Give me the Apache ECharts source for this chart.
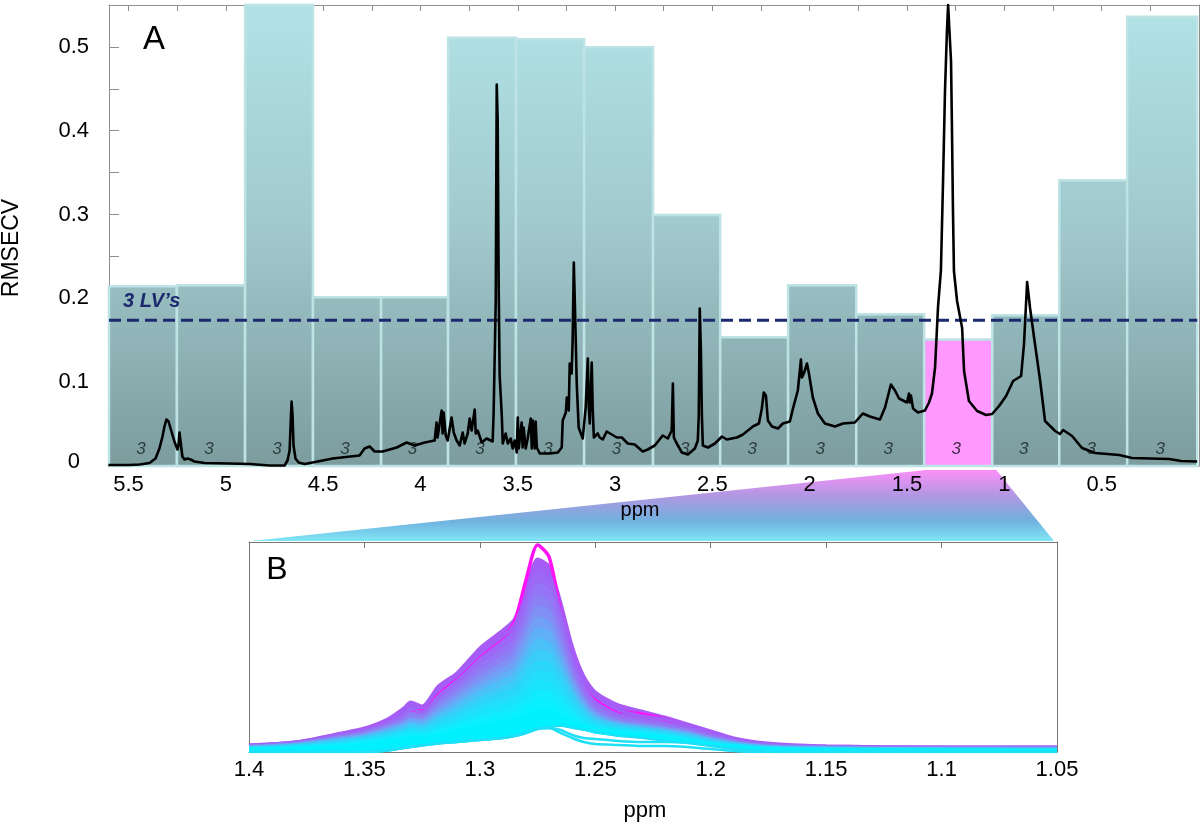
<!DOCTYPE html>
<html><head><meta charset="utf-8">
<style>html,body{margin:0;padding:0;background:#fff}#c{width:1200px;height:827px}</style>
<script src="https://cdn.jsdelivr.net/npm/echarts@6/dist/echarts.min.js"></script>
</head><body><div id="c"></div>
<script>
// Panel A: bins [left ppm, right ppm, RMSECV, latent variables]
const bins = [
 [5.600,5.251,0.2145,3],[5.251,4.901,0.2157,3],[4.901,4.552,0.55,3],[4.552,4.202,0.2013,3],
 [4.202,3.858,0.2013,3],[3.858,3.509,0.511,3],[3.509,3.159,0.509,3],[3.159,2.805,0.4995,3],
 [2.805,2.460,0.2994,3],[2.460,2.111,0.1535,3],[2.111,1.761,0.2157,3],[1.761,1.412,0.181,3],
 [1.412,1.062,0.151,3],[1.062,0.718,0.18,3],[0.718,0.369,0.341,3],[0.369,0.009,0.536,3]];
const selectedBin = 12;
const threshold = 0.174;
const ppmTicks = [5.5,5,4.5,4,3.5,3,2.5,2,1.5,1,0.5];
const ppmMinorTicks = [5.5,5.25,5,4.75,4.5,4.25,4,3.75,3.5,3.25,3,2.75,2.5,2.25,2,1.75,1.5,1.25,1,0.75,0.5,0.25];
const rmsecvTicks = [0,0.1,0.2,0.3,0.4,0.5];
const rmsecvMinorTicks = [0.05,0.1,0.15,0.2,0.25,0.3,0.35,0.4,0.45,0.5];
// Panel A: spectrum [ppm, intensity in arbitrary units]
const spectrum = [
[5.603,1],[5.495,1],[5.443,1.5],[5.392,3],[5.361,7.5],[5.341,17.5],[5.325,29.5],[5.315,39.5],[5.305,46.5],[5.294,44.5],
[5.279,34.5],[5.264,24.5],[5.248,16.5],[5.243,20.5],[5.238,33.5],[5.233,31.5],[5.228,17.5],[5.223,9.5],[5.212,6.5],[5.197,7.5],
[5.181,6.5],[5.161,4.5],[5.109,3],[4.981,2.5],[4.878,2],[4.775,0.5],[4.724,0.5],[4.698,0.5],[4.683,5.5],[4.672,15.5],
[4.667,40.5],[4.662,64.5],[4.657,50.5],[4.652,20.5],[4.642,7.5],[4.626,3.5],[4.595,2],[4.554,3.5],[4.451,7.5],[4.313,10.5],
[4.287,17.5],[4.261,19.5],[4.235,14.5],[4.194,14.5],[4.122,18.5],[4.071,23.5],[4.030,20.5],[3.978,23.5],[3.927,25.5],[3.917,43.5],
[3.912,28.5],[3.891,55.5],[3.886,32.5],[3.881,53.5],[3.870,30.5],[3.860,25.5],[3.840,48.5],[3.829,33.5],[3.814,25.5],[3.798,20.5],
[3.783,33.5],[3.773,22.5],[3.757,32.5],[3.747,47.5],[3.737,35.5],[3.721,56.5],[3.716,32.5],[3.706,35.5],[3.685,23.5],[3.660,27.5],
[3.629,24.5],[3.624,52.5],[3.613,165.5],[3.608,381.5],[3.603,345],[3.598,180],[3.593,90.5],[3.582,50.5],[3.577,22.5],[3.562,32.5],
[3.551,22.5],[3.536,27.5],[3.526,17.5],[3.516,25.5],[3.505,13.5],[3.500,48.5],[3.495,17.5],[3.480,43.5],[3.475,18.5],[3.470,38.5],
[3.459,17.5],[3.449,27.5],[3.433,47.5],[3.428,17.5],[3.423,45.5],[3.413,17.5],[3.408,44.5],[3.402,18.5],[3.387,12.5],[3.336,12.5],
[3.294,13.5],[3.274,18.5],[3.269,45.5],[3.253,53.5],[3.248,68.5],[3.238,55.5],[3.233,102.5],[3.223,92.5],[3.218,125.5],[3.212,203.5],
[3.207,165.5],[3.202,125.5],[3.197,82.5],[3.187,38.5],[3.166,27.5],[3.156,27.5],[3.151,58.5],[3.140,107.5],[3.135,58.5],[3.130,42.5],
[3.120,103.5],[3.115,58.5],[3.109,28.5],[3.089,32.5],[3.079,28.5],[3.063,26.5],[3.043,34.5],[3.017,31.5],[2.991,28.5],[2.965,28.5],
[2.935,22.5],[2.899,21.5],[2.858,14.5],[2.832,16.5],[2.796,20.5],[2.755,30.5],[2.729,27.5],[2.709,35.5],[2.703,82.5],[2.698,28.5],
[2.683,22.5],[2.657,13.5],[2.626,11.5],[2.590,17.5],[2.575,25.5],[2.570,50.5],[2.565,157.5],[2.559,115.5],[2.554,50.5],[2.549,20.5],
[2.523,18.5],[2.487,22.5],[2.451,29.5],[2.426,26.5],[2.374,28.5],[2.343,31.5],[2.292,39.5],[2.261,42.5],[2.246,57.5],[2.236,73.5],
[2.225,70.5],[2.215,45.5],[2.194,39.5],[2.163,37.5],[2.138,42.5],[2.102,44.5],[2.086,57.5],[2.061,75.5],[2.045,106.5],[2.040,88.5],
[2.030,92.5],[2.014,102.5],[2.004,92.5],[1.984,68.5],[1.958,52.5],[1.922,42.5],[1.870,39.5],[1.829,42.5],[1.768,43.5],[1.727,52.5],
[1.691,49.5],[1.639,46.5],[1.613,58.5],[1.583,81.5],[1.562,75.5],[1.541,67.5],[1.500,63.5],[1.490,72.5],[1.485,63.5],[1.480,70.5],
[1.469,57.5],[1.444,53.5],[1.408,55.5],[1.387,63.5],[1.372,72.5],[1.356,98.5],[1.341,158.5],[1.326,195.5],[1.315,285],[1.305,375],
[1.295,435],[1.289,461],[1.279,461],[1.274,405],[1.269,335],[1.264,255],[1.259,195],[1.243,165],[1.217,138],[1.207,95],
[1.182,65],[1.140,55],[1.094,51],[1.063,52],[1.027,60],[0.991,70],[0.955,85],[0.914,90],[0.899,122],[0.883,184],
[0.868,158],[0.847,128],[0.816,85],[0.791,45],[0.739,35],[0.714,32],[0.698,36],[0.652,30],[0.601,18],[0.534,13],
[0.410,11],[0.344,8],[0.153,7],[0.092,5],[0.010,4.5]];
// Panel B
const zoomPpm = [1.40,1.38,1.36,1.35,1.34,1.333,1.33,1.325,1.318,1.31,1.30,1.29,1.285,1.28,1.275,1.27,1.265,1.26,1.255,1.25,1.24,1.23,1.22,1.21,1.20,1.19,1.18,1.17,1.15,1.10,1.05];
const zoomTicks = [1.4,1.35,1.3,1.25,1.2,1.15,1.1,1.05];
const curveColors = ['#a85cf5','#a25ff6','#9c68f5','#9574f5','#8c80f5','#8090f5','#72a0f6','#60b0f7','#4cc0f8','#3acdf9','#2cd6fa','#22defb','#18e5fc','#10ecfd','#08f0fe','#00f0ff','#00f0ff'];
const curve1 = [7,10,19,24,33,44,50,46,66,79,104,122,133,165,193,186,150,106,76,60,47,41,35,28,21,14,10,8,6,5,5];
const curve2 = [7,10,18,22,30,42,49,44,63,76,98,116,127,158,187,179,140,98,72,56,42,36,33,26,19,13,9,7,6,5,5];
const curve3 = [6,9,17,21,29,37,43,40,56,71,92,109,120,150,180,172,134,92,66,50,37,32,29,24,17,12,8,7,5,4,4];
const curve4 = [6,9,16,20,27,34,39,37,51,66,86,102,112,140,168,162,126,86,60,45,34,30,27,22,16,11,8,6,5,4,4];
const curve5 = [6,8,15,19,26,32,37,35,48,62,80,95,105,131,156,150,116,80,56,42,32,28,25,21,15,10,7,6,5,4,4];
const curve6 = [5,8,14,18,24,30,34,33,45,58,75,89,98,122,145,140,108,75,53,40,30,27,24,20,14,10,7,5,4,4,3];
const curve7 = [5,8,14,17,23,28,32,31,42,54,70,83,91,113,134,129,100,70,50,38,29,26,23,19,13,9,6,5,4,3,3];
const curve8 = [5,7,13,16,22,27,30,29,39,50,65,77,84,104,123,119,93,66,47,36,28,25,22,18,13,9,6,5,4,3,3];
const curve9 = [4,7,12,15,20,25,28,27,36,46,60,71,77,95,112,108,85,61,44,34,27,24,21,17,12,8,6,4,4,3,3];
const curve10 = [4,6,11,14,19,23,26,25,33,42,54,64,70,86,101,98,78,57,41,32,26,23,20,16,11,8,5,4,3,3,2];
const curve11 = [4,6,10,13,17,21,24,23,30,38,49,58,63,77,90,88,71,52,38,30,24,22,19,15,10,7,5,4,3,2,2];
const curve12 = [3,5,9,12,16,20,22,21,27,34,44,52,56,68,80,78,63,47,35,28,23,21,18,14,9,7,4,3,3,2,2];
const curve13 = [3,5,8,11,14,18,20,19,24,30,39,46,50,59,70,68,56,42,32,26,22,20,17,13,9,6,4,3,2,2,2];
const curve14 = [3,4,7,10,13,16,18,17,22,27,34,40,43,51,60,59,49,38,29,24,21,19,16,12,8,6,4,3,2,2,1];
const curve15 = [2,4,6,9,11,14,16,15,19,24,30,35,38,44,51,50,42,33,27,22,19,17,15,11,8,5,3,3,2,1,1];
const curve16 = [2,3,5,7,10,12,14,13,17,21,26,30,32,37,42,41,36,29,25,20,18,16,14,10,7,5,3,2,2,1,1];
const curve17 = [1,2,4,5,8,9,11,10,14,17,22,25,27,31,35,34,30,27,23,20,17,15,13,10,7,5,3,2,1,1,1];
const topCurve = [6,9,16,20,27,34,38,43,57,73,97,115,130,172,207,195,140,92,66,52,41,38,33,25,18,12,8,6,5,4,4];
const gapCurve = [0,0,0,0,1.5,4,5,6.5,8.5,10,12,14,16,19,23,25,26,24,22,20,16,14,11,9,6,3,1,0,0,0,0];
const lowCurve = [0,0,0,0,1.5,4,5,6.5,8.5,10,12,14,16,19,23,24,22,17,14,13,11,10,10,9,6,3,1,0,0,0,0];
const lowestCurve = [0,0,0,0,1.5,4,5,6.5,8.5,10,12,14,16,19,23,24,19,14,10,8,7,6,6,5,3,1,0,0,0,0,0];
const massCurves = [curve1,curve2,curve3,curve4,curve5,curve6,curve7,curve8,curve9,curve10,curve11,curve12,curve13,curve14,curve15,curve16,curve17];

const FONT = '"Liberation Sans", Arial, sans-serif';
const GRAY = '#8f8f8f';
const chart = echarts.init(document.getElementById('c'), null, {renderer:'canvas'});
const zipCurve = c => zoomPpm.map((p,i)=>[p,c[i]]);

function renderBin(params, api){
  const l = api.coord([api.value(0), api.value(2)]);
  const r = api.coord([api.value(1), 0]);
  const top = api.coord([0, 0.55])[1], bottom = api.coord([0, 0])[1];
  const pink = params.dataIndex === selectedBin;
  const fill = pink ? '#ff99ff' : new echarts.graphic.LinearGradient(0, top, 0, bottom,
      [{offset:0,color:'#b1e3e6'},{offset:0.5,color:'#a0c8cc'},{offset:1,color:'#7c9c9e'}], true);
  return {type:'group', children:[
    {type:'rect', shape:{x:l[0], y:l[1], width:r[0]-l[0], height:r[1]-l[1]},
     style:{fill, stroke:'#bde3e5', lineWidth:2.5}},
    {type:'text', x:(l[0]+r[0])/2-2, y:bottom-17,
     style:{text:String(api.value(3)), fill:pink?'#402a44':'#2c3b3d', font:'italic 17px '+FONT, align:'center', verticalAlign:'middle'}}
  ]};
}

const lineBase = {type:'line', showSymbol:false, symbol:'none', silent:true, animation:false, xAxisIndex:2, yAxisIndex:3};
const zoomSeries = [];
massCurves.forEach((c,i)=>{
  zoomSeries.push({...lineBase, smooth:0.25, z:3, data:zipCurve(c),
    lineStyle:{color:curveColors[i], width:3}, areaStyle:{color:curveColors[i], opacity:1}});
  if(i===0) zoomSeries.push({...lineBase, smooth:0.25, z:3, data:zipCurve(topCurve), lineStyle:{color:'#ff12f5',width:3.5}});
});
zoomSeries.push({...lineBase, smooth:0.25, z:3, data:zipCurve(gapCurve), lineStyle:{color:'#1fdff6',width:2}, areaStyle:{color:'#fff',opacity:1}});
zoomSeries.push({...lineBase, smooth:0.25, z:3, data:zipCurve(lowCurve), lineStyle:{color:'#1fdff6',width:2.5}});
zoomSeries.push({...lineBase, smooth:0.25, z:3, data:zipCurve(lowestCurve), lineStyle:{color:'#1fdff6',width:2.5}, areaStyle:{color:'#fff',opacity:1}});

const option = {
  backgroundColor:'#fff', animation:false,
  grid:[{left:109,right:1,top:5,height:461},{left:249,right:143,top:542,height:210}],
  xAxis:[
   {gridIndex:0,type:'value',inverse:true,min:0,max:5.6,position:'bottom',splitLine:{show:false},
    axisLine:{onZero:false,lineStyle:{color:GRAY}},axisTick:{show:false},
    axisLabel:{customValues:ppmTicks,color:'#000',fontSize:22,fontFamily:FONT,margin:8}},
   {gridIndex:0,type:'value',inverse:true,min:0,max:5.6,position:'top',splitLine:{show:false},
    axisLine:{onZero:false,lineStyle:{color:GRAY}},axisTick:{customValues:ppmMinorTicks,inside:true,length:6,lineStyle:{color:GRAY}},axisLabel:{show:false}},
   {gridIndex:1,type:'value',inverse:true,min:1.05,max:1.4,position:'bottom',splitLine:{show:false},
    axisLine:{onZero:false,lineStyle:{color:'#777'}},axisTick:{customValues:zoomTicks,inside:true,length:7,lineStyle:{color:'#777'}},
    axisLabel:{customValues:zoomTicks,color:'#000',fontSize:22,fontFamily:FONT,margin:7}},
   {gridIndex:1,type:'value',inverse:true,min:1.05,max:1.4,position:'top',splitLine:{show:false},
    axisLine:{onZero:false,lineStyle:{color:'#777'}},axisTick:{customValues:zoomTicks,inside:true,length:6,lineStyle:{color:'#777'}},axisLabel:{show:false}}
  ],
  yAxis:[
   {gridIndex:0,type:'value',min:0,max:0.55,position:'left',splitLine:{show:false},
    axisLine:{show:true,onZero:false,lineStyle:{color:GRAY}},
    axisTick:{customValues:rmsecvMinorTicks,inside:true,length:10,lineStyle:{color:GRAY}},
    axisLabel:{customValues:rmsecvTicks,color:'#000',fontSize:22,fontFamily:FONT,margin:20,
      formatter:v=>v===0?'{z|0}':String(v),rich:{z:{fontSize:22,fontFamily:FONT,color:'#000',padding:[0,9,9,0]}}}},
   {gridIndex:0,type:'value',min:0,max:461,position:'left',show:false},
   {gridIndex:0,type:'value',min:0,max:0.55,position:'right',splitLine:{show:false},
    axisLine:{show:true,onZero:false,lineStyle:{color:GRAY}},axisTick:{show:false},axisLabel:{show:false}},
   {gridIndex:1,type:'value',min:0,max:210,position:'left',splitLine:{show:false},
    axisLine:{show:true,onZero:false,lineStyle:{color:'#777'}},axisTick:{show:false},axisLabel:{show:false}},
   {gridIndex:1,type:'value',min:0,max:210,position:'right',splitLine:{show:false},
    axisLine:{show:true,onZero:false,lineStyle:{color:'#777'}},axisTick:{show:false},axisLabel:{show:false}}
  ],
  series:[
   {type:'custom',name:'RMSECV',xAxisIndex:0,yAxisIndex:0,z:2,silent:true,clip:false,renderItem:renderBin,
    encode:{x:[0,1],y:2},data:bins},
   {type:'line',name:'threshold',xAxisIndex:0,yAxisIndex:0,z:3,symbol:'none',silent:true,
    data:[[5.6,threshold],[0.009,threshold]],lineStyle:{color:'#1d2a6d',width:3,type:[12,6]}},
   {type:'line',name:'spectrum',xAxisIndex:0,yAxisIndex:1,z:4,symbol:'none',silent:true,
    data:spectrum,lineStyle:{color:'#000',width:2.6,join:'round'}},
   ...zoomSeries
  ]
};
chart.setOption(option);

const tl = chart.convertToPixel({xAxisIndex:0,yAxisIndex:0},[bins[selectedBin][0],0]);
const tr = chart.convertToPixel({xAxisIndex:0,yAxisIndex:0},[bins[selectedBin][1],0]);
const bl = chart.convertToPixel({xAxisIndex:2,yAxisIndex:3},[1.4,210]);
const br = chart.convertToPixel({xAxisIndex:2,yAxisIndex:3},[1.05,210]);
const txt = (text,x,y,font,extra) => ({type:'text',x,y,z:20,...(extra||{}),
   style:{text,font,fill:'#000',align:'center',verticalAlign:'middle'}});
chart.setOption({graphic:[
  {type:'polygon',z:-1,silent:true,shape:{points:[[tl[0]+2,tl[1]+4],[tr[0]+4,tr[1]+4],[br[0]-3,br[1]-1],[bl[0]+2,bl[1]-1]]},
   style:{fill:new echarts.graphic.LinearGradient(0,0,0,1,[
     {offset:0,color:'#fb90f8'},{offset:0.38,color:'#ad98e2'},{offset:0.72,color:'#70b2de'},{offset:1,color:'#7fe6f6'}])}},
  txt('A',154,40,'33px '+FONT),
  txt('B',277,570,'32px '+FONT),
  txt('RMSECV',12,248,'23px '+FONT,{rotation:Math.PI/2}),
  txt('ppm',640,510,'20px '+FONT),
  txt('ppm',645,811,'22px '+FONT),
  {type:'text',x:123,y:301,z:20,style:{text:'3 LV\u2019s',font:'italic bold 20px '+FONT,fill:'#1d2a6d',align:'left',verticalAlign:'middle'}}
]});
</script></body></html>
